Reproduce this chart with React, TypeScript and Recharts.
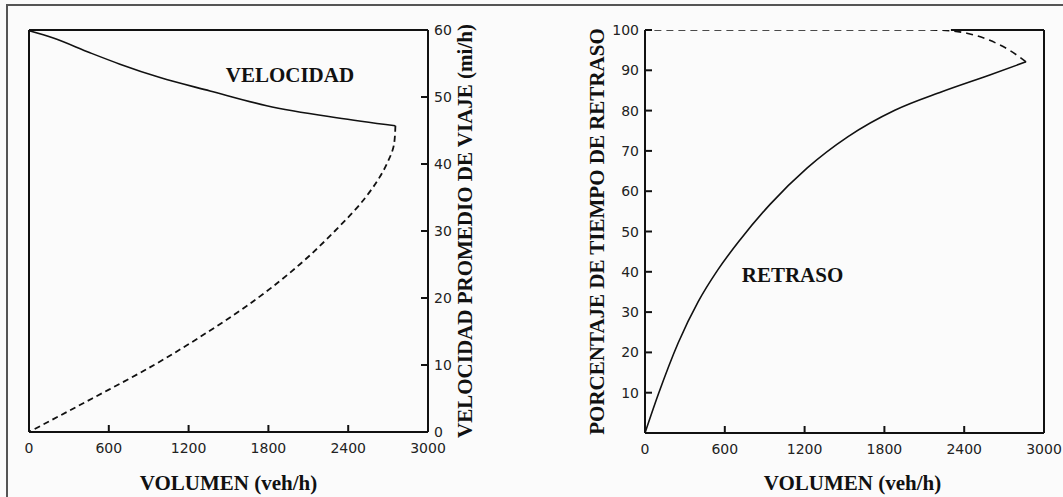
import { LineChart, Line, XAxis, YAxis, ReferenceDot, ReferenceLine } from 'recharts'

// Velocidad vs volumen (left panel)
const speedFlowVolume = [0, 183, 459, 684, 985, 1361, 1787, 2313, 2755]
const speedFlowValue = [59.9, 58.8, 56.6, 54.9, 52.9, 50.9, 48.7, 46.9, 45.7]
const speedForcedVolume = [2755, 2745, 2690, 2530, 2300, 2035, 1720, 1350, 940, 475, 0]
const speedForcedValue = [45.7, 43, 40, 35, 30, 25, 20, 15, 10, 5, 0]

// Porcentaje de tiempo de retraso vs volumen (right panel)
const delayVolume = [0, 100, 250, 400, 550, 714, 942, 1220, 1524, 1878, 2232, 2587, 2865]
const delayValue = [0, 9.6, 22.4, 32.6, 40.6, 47.9, 56.8, 65.8, 73.5, 80.1, 84.7, 88.8, 92.1]
const delayForcedVolume = [2865, 2739, 2587, 2420, 2300, 2150, 0]
const delayForcedValue = [92.1, 95, 97.5, 99.2, 99.8, 100, 100]

const volumeTicks = [0, 600, 1200, 1800, 2400, 3000]
const speedTicks = [0, 10, 20, 30, 40, 50, 60]
const delayTicks = [10, 20, 30, 40, 50, 60, 70, 80, 90, 100]

const zip = (xs: number[], ys: number[]) => xs.map((x, i) => ({ x, y: ys[i] }))

const INK = '#111'
const axisLine = { stroke: INK, strokeWidth: 2 }
const tickFont = { fill: '#222', fontSize: 14, fontFamily: 'DejaVu Sans' }
const titleStyle = { fill: INK, fontSize: 21, fontWeight: 700, fontFamily: 'Liberation Serif' }
const TICK_LEN = 7

// ticks point into the plot, labels stay outside
const BottomTick = (m: number) => (p: any) => (
  <g>
    <line x1={p.x} x2={p.x} y1={p.y - m} y2={p.y - m - TICK_LEN} stroke={INK} strokeWidth={2} />
    <text x={p.x} y={p.y} dy="0.75em" textAnchor="middle" {...tickFont}>{p.payload.value}</text>
  </g>
)
const RightTick = (m: number) => (p: any) => (
  <g>
    <line x1={p.x - m} x2={p.x - m - TICK_LEN} y1={p.y} y2={p.y} stroke={INK} strokeWidth={2} />
    <text x={p.x} y={p.y} dy="0.36em" textAnchor="start" {...tickFont}>{p.payload.value}</text>
  </g>
)
const LeftTick = (m: number) => (p: any) => (
  <g>
    <line x1={p.x + m} x2={p.x + m + TICK_LEN} y1={p.y} y2={p.y} stroke={INK} strokeWidth={2} />
    <text x={p.x} y={p.y} dy="0.36em" textAnchor="end" {...tickFont}>{p.payload.value}</text>
  </g>
)

function SpeedChart() {
  return (
    <LineChart width={540} height={497} margin={{ top: 30, left: 29, right: 38, bottom: 0 }}>
      <XAxis
        dataKey="x" type="number" domain={[0, 3000]} ticks={volumeTicks} allowDataOverflow
        axisLine={axisLine} tickLine={false} tickSize={0} tickMargin={10} tick={BottomTick(10)} height={65}
        label={{ value: 'VOLUMEN (veh/h)', position: 'insideBottom', offset: 7, ...titleStyle }}
      />
      <YAxis
        orientation="right" type="number" domain={[0, 60]} ticks={speedTicks} allowDataOverflow
        axisLine={axisLine} tickLine={false} tickSize={0} tickMargin={6} tick={RightTick(6)} width={74}
        label={{ value: 'VELOCIDAD PROMEDIO DE VIAJE (mi/h)', angle: -90, position: 'center', ...titleStyle }}
      />
      <ReferenceLine y={60} stroke={INK} strokeWidth={2} />
      <ReferenceLine x={0} stroke={INK} strokeWidth={2} />
      <Line data={zip(speedFlowVolume, speedFlowValue)} dataKey="y" type="monotone" stroke={INK} strokeWidth={1.6} dot={false} isAnimationActive={false} />
      <Line data={zip(speedForcedVolume, speedForcedValue)} dataKey="y" type="monotoneY" stroke={INK} strokeWidth={1.8} strokeDasharray="6 4" dot={false} isAnimationActive={false} />
      <ReferenceDot x={1962} y={53.3} r={0} ifOverflow="visible" label={{ value: 'VELOCIDAD', position: 'center', ...titleStyle }} />
    </LineChart>
  )
}

function DelayChart() {
  return (
    <LineChart width={563} height={497} margin={{ top: 30, left: 49, right: 19, bottom: 0 }}>
      <XAxis
        dataKey="x" type="number" domain={[0, 3000]} ticks={volumeTicks} allowDataOverflow
        axisLine={axisLine} tickLine={false} tickSize={0} tickMargin={10} tick={BottomTick(10)} height={64}
        label={{ value: 'VOLUMEN (veh/h)', position: 'insideBottom', offset: 7, dx: 8, ...titleStyle }}
      />
      <YAxis
        type="number" domain={[0, 100]} ticks={delayTicks} allowDataOverflow
        axisLine={axisLine} tickLine={false} tickSize={0} tickMargin={6} tick={LeftTick(6)} width={96}
        label={{ value: 'PORCENTAJE DE TIEMPO DE RETRASO', angle: -90, position: 'center', ...titleStyle }}
      />
      <ReferenceLine x={3000} stroke={INK} strokeWidth={2} />
      <ReferenceLine segment={[{ x: 2300, y: 100 }, { x: 3000, y: 100 }]} stroke={INK} strokeWidth={2} />
      <Line data={zip(delayVolume, delayValue)} dataKey="y" type="monotone" stroke={INK} strokeWidth={1.6} dot={false} isAnimationActive={false} />
      <Line data={zip(delayForcedVolume, delayForcedValue)} dataKey="y" type="monotoneX" stroke={INK} strokeWidth={1.6} strokeDasharray="7 5" dot={false} isAnimationActive={false} />
      <ReferenceDot x={1109} y={39.2} r={0} ifOverflow="visible" label={{ value: 'RETRASO', position: 'center', ...titleStyle }} />
    </LineChart>
  )
}

export default function App() {
  return (
    <div style={{ position: 'absolute', left: 0, top: 0, width: 1063, height: 497, background: '#fbfbfb', overflow: 'hidden' }}>
      <div style={{ position: 'absolute', left: 6, top: 4, right: 0, bottom: 0, borderTop: '2px solid #555', borderLeft: '2px solid #555' }} />
      <div style={{ position: 'absolute', left: 0, top: 0 }}>
        <SpeedChart />
      </div>
      <div style={{ position: 'absolute', left: 500, top: 0 }}>
        <DelayChart />
      </div>
    </div>
  )
}
